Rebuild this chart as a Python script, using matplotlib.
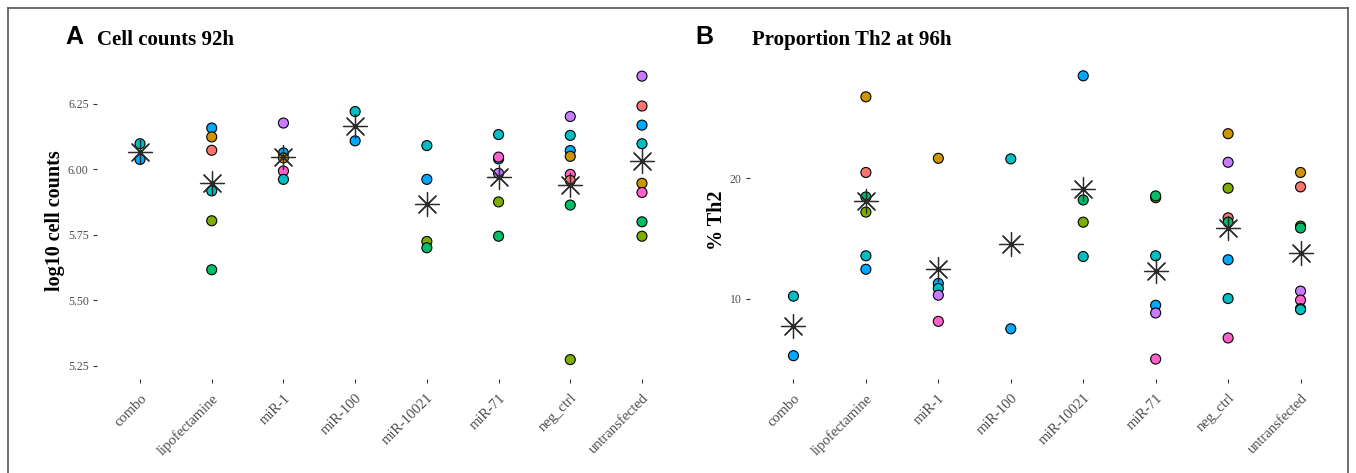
import matplotlib
matplotlib.use("Agg")
import matplotlib.pyplot as plt
import numpy as np
import pandas as pd

# ── data ─────────────────────────────────────────────────────────────────────
groups = ["combo", "lipofectamine", "miR-1", "miR-100",
          "miR-10021", "miR-71", "neg_ctrl", "untransfected"]

# ggplot hue palette, one colour per replicate (1..8)
rep_colors = ["#F8766D", "#CD9600", "#7CAE00", "#00BE67",
              "#00BFC4", "#00A9FF", "#C77CFF", "#FF61CC"]

# panel A: log10 cell counts at 92h
count_group = (["combo"] * 2 + ["lipofectamine"] * 6 + ["miR-1"] * 5
               + ["miR-100"] * 2 + ["miR-10021"] * 4 + ["miR-71"] * 6
               + ["neg_ctrl"] * 8 + ["untransfected"] * 8)
count_rep = [5, 6,
             6, 2, 1, 5, 3, 4,
             7, 6, 2, 8, 5,
             5, 6,
             5, 6, 3, 4,
             5, 6, 8, 7, 3, 4,
             7, 5, 6, 2, 8, 1, 4, 3,
             7, 1, 6, 5, 2, 8, 4, 3]
count_val = [6.098, 6.038,
             6.158, 6.124, 6.073, 5.918, 5.804, 5.617,
             6.177, 6.063, 6.044, 5.994, 5.962,
             6.221, 6.109,
             6.091, 5.962, 5.725, 5.701,
             6.133, 6.040, 6.047, 5.985, 5.876, 5.745,
             6.202, 6.130, 6.072, 6.050, 5.981, 5.958, 5.864, 5.274,
             6.356, 6.242, 6.169, 6.098, 5.947, 5.912, 5.800, 5.745]
count_ylim = (5.20, 6.41)
count_yticks = [5.25, 5.50, 5.75, 6.00, 6.25]

# panel B: % Th2 at 96h
th2_group = (["combo"] * 2 + ["lipofectamine"] * 6 + ["miR-1"] * 5
             + ["miR-100"] * 2 + ["miR-10021"] * 4 + ["miR-71"] * 6
             + ["neg_ctrl"] * 8 + ["untransfected"] * 8)
th2_rep = [5, 6,
           2, 1, 4, 3, 5, 6,
           2, 6, 5, 7, 8,
           5, 6,
           6, 4, 3, 5,
           3, 4, 5, 6, 7, 8,
           2, 7, 3, 1, 4, 6, 5, 8,
           2, 1, 3, 4, 7, 8, 6, 5]
th2_val = [10.2, 5.24,
           26.8, 20.5, 18.46, 17.2, 13.56, 12.44,
           21.68, 11.26, 10.84, 10.28, 8.1,
           21.63, 7.48,
           28.55, 18.21, 16.36, 13.5,
           18.4, 18.55, 13.56, 9.44, 8.8, 4.96,
           23.73, 21.35, 19.19, 16.72, 16.36, 13.23, 10.0, 6.72,
           20.5, 19.3, 16.03, 15.88, 10.62, 9.87, 9.16, 9.08]
th2_ylim = (3.3, 29.7)
th2_yticks = [10, 20]

SERIF = ["Liberation Serif", "DejaVu Serif"]
SANS = ["Liberation Sans", "DejaVu Sans"]
TICK_GREY = "#4D4D4D"


def draw_panel(ax, group, rep, val, ylabel, ylim, yticks, ytick_fmt):
    df = pd.DataFrame({"group": group, "rep": rep, "val": val})
    df["x"] = df["group"].map({g: i for i, g in enumerate(groups)})
    cols = [rep_colors[r - 1] for r in df["rep"]]
    ax.scatter(df["x"], df["val"], s=52, c=cols, edgecolors="black",
               linewidths=0.8, zorder=3)
    means = df.groupby("x")["val"].mean()
    ax.scatter(means.index, means.values, marker=(8, 2, 0), s=300,
               color="#2a2a2a", linewidths=0.9, zorder=4)

    ax.set_xlim(-0.6, len(groups) - 0.4)
    ax.set_ylim(*ylim)
    ax.set_xticks(range(len(groups)))
    ax.set_xticklabels(groups, rotation=45, ha="right", va="top",
                       rotation_mode="anchor", family=SERIF, fontsize=10.5,
                       color=TICK_GREY)
    ax.set_yticks(yticks)
    ax.set_yticklabels([ytick_fmt.format(t) for t in yticks], family=SERIF,
                       fontsize=8.5, color=TICK_GREY)
    ax.tick_params(axis="both", length=3, width=0.8, color="#333333", pad=3)
    ax.tick_params(axis="x", pad=6)
    for sp in ax.spines.values():
        sp.set_visible(False)
    ax.set_ylabel(ylabel, family=SERIF, fontsize=14.5, fontweight="bold",
                  labelpad=2)


fig = plt.figure(figsize=(13.56, 4.73), dpi=100)
W, H = 1356, 473

# outer frame
fig.add_artist(plt.Line2D([8 / W, 8 / W], [0, 1 - 8 / H], color="#555555",
                          lw=1.2, transform=fig.transFigure))
fig.add_artist(plt.Line2D([1348 / W, 1348 / W], [0, 1 - 8 / H], color="#555555",
                          lw=1.2, transform=fig.transFigure))
fig.add_artist(plt.Line2D([8 / W, 1348 / W], [1 - 8 / H, 1 - 8 / H],
                          color="#555555", lw=1.2, transform=fig.transFigure))

axA = fig.add_axes([97 / W, 1 - 379 / H, 588 / W, 317 / H])
draw_panel(axA, count_group, count_rep, count_val, "log10 cell counts",
           count_ylim, count_yticks, "{:.2f}")

axB = fig.add_axes([750 / W, 1 - 379 / H, 594 / W, 317 / H])
draw_panel(axB, th2_group, th2_rep, th2_val, "% Th2",
           th2_ylim, th2_yticks, "{:d}")

# panel letters and titles
fig.text(65 / W, 1 - 37 / H, "A", family=SANS, fontweight="bold",
         fontsize=18, va="center", ha="left")
fig.text(97 / W, 1 - 40 / H, "Cell counts 92h", family=SERIF,
         fontweight="bold", fontsize=15, va="center", ha="left")
fig.text(695 / W, 1 - 37 / H, "B", family=SANS, fontweight="bold",
         fontsize=18, va="center", ha="left")
fig.text(752 / W, 1 - 40 / H, "Proportion Th2 at 96h", family=SERIF,
         fontweight="bold", fontsize=15, va="center", ha="left")

fig.savefig("out.png", dpi=100)
